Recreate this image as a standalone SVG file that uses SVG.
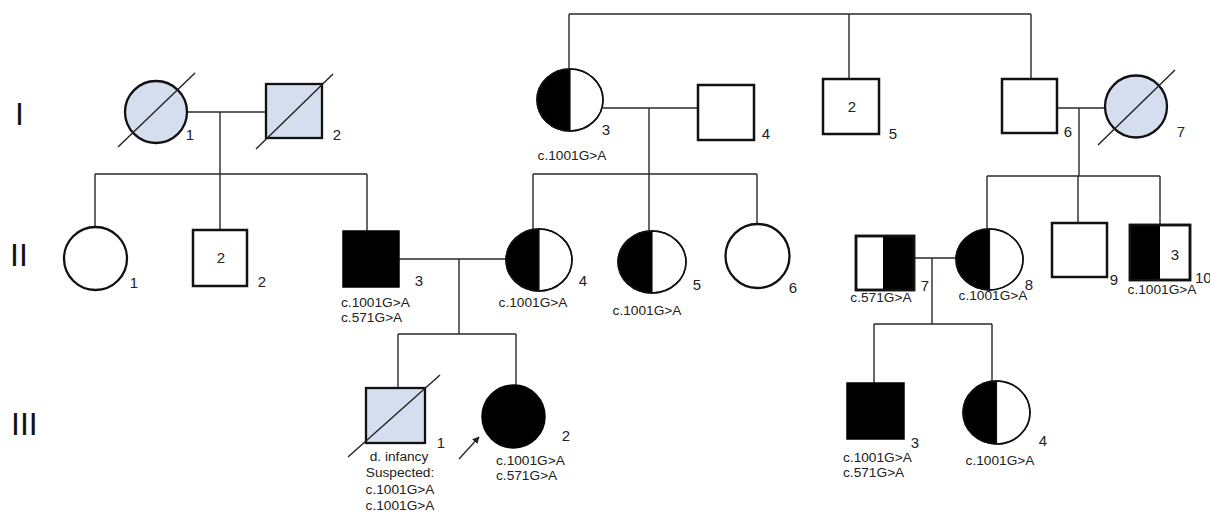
<svg xmlns="http://www.w3.org/2000/svg" width="1210" height="513" viewBox="0 0 1210 513">
  <style>
    .ln { stroke: #2a2a2a; stroke-width: 1.4; fill: none; }
    .sq { fill: #fff; stroke: #111; stroke-width: 2.5; }
    .ci { fill: #fff; stroke: #111; stroke-width: 2.3; }
    .hc { fill: #fff; stroke: #111; stroke-width: 1.5; }
    .dec { fill: #d5deef; stroke: #111; stroke-width: 2.3; }
    .aff { fill: #000; stroke: #000; stroke-width: 1.5; }
    .blk { fill: #000; stroke: none; }
    .sl { stroke: #222; stroke-width: 1.4; fill: none; }
    .mid { stroke: #111; stroke-width: 1.2; }
    text { font-family: "Liberation Sans", Arial, sans-serif; fill: #222; }
    .num { font-size: 15px; text-anchor: middle; }
    .gen { font-size: 13.7px; }
    .gc { text-anchor: middle; }
    .rom { font-size: 32px; fill: #111; }
  </style>
  <defs>
    <marker id="ah" viewBox="0 0 10 10" refX="9" refY="5" markerWidth="7" markerHeight="7" orient="auto" markerUnits="userSpaceOnUse">
      <path d="M0,0 L10,5 L0,10 Z" fill="#222"/>
    </marker>
  </defs>

  <!-- generation numerals -->
  <g id="generations">
    <text class="rom" x="15" y="125">I</text>
    <text class="rom" x="10" y="266">II</text>
    <text class="rom" x="11" y="435">III</text>
  </g>

  <!-- lines of descent and marriage -->
  <g id="connectors">
    <!-- I-1 x I-2 -->
    <path class="ln" d="M187,112 H266 M220,112 V174 M95,174 H367 M95,174 V227 M220,174 V230 M367,174 V231"/>
    <!-- top sibship of I-3, I-5, I-6 -->
    <path class="ln" d="M569,14 H1031 M569,14 V69 M849,14 V79 M1031,14 V79"/>
    <!-- I-3 x I-4 -->
    <path class="ln" d="M603,108 H698 M649,108 V174 M533,174 H757 M533,174 V229 M649,174 V231 M757,174 V224"/>
    <!-- I-6 x I-7 -->
    <path class="ln" d="M1057,108 H1105 M1079,108 V176 M987,176 H1160 M987,176 V229 M1078,176 V223 M1160,176 V225"/>
    <!-- II-3 x II-4 -->
    <path class="ln" d="M399,259 H506 M459,259 V334 M398,334 H516 M398,334 V388 M516,334 V385"/>
    <!-- II-7 x II-8 -->
    <path class="ln" d="M914,258 H956 M932,258 V324 M874,324 H992 M874,324 V383 M992,324 V381"/>
    <!-- proband arrow -->
    <line class="ln" x1="459" y1="459" x2="479" y2="437" marker-end="url(#ah)"/>
  </g>

  <!-- Generation I -->
  <g id="I-1">
    <circle class="dec" cx="156" cy="112" r="31"/>
    <line class="sl" x1="118" y1="147" x2="195" y2="73"/>
    <text class="num" x="190" y="140">1</text>
  </g>
  <g id="I-2">
    <rect class="dec" x="266" y="84" width="56" height="54"/>
    <line class="sl" x1="256" y1="149" x2="333" y2="74"/>
    <text class="num" x="337" y="140">2</text>
  </g>
  <g id="I-3">
    <ellipse class="hc" cx="570" cy="100" rx="33" ry="31"/>
    <path class="blk" d="M570,69 A33,31 0 0 0 570,131 Z"/>
    <ellipse cx="570" cy="100" rx="33" ry="31" fill="none" stroke="#111" stroke-width="1.5"/>
    <line class="mid" x1="570" y1="69" x2="570" y2="131"/>
    <text class="num" x="606" y="135">3</text>
    <text class="gen gc" x="572" y="160">c.1001G&gt;A</text>
  </g>
  <g id="I-4">
    <rect class="sq" x="698" y="85" width="56" height="55"/>
    <text class="num" x="766" y="139">4</text>
  </g>
  <g id="I-5">
    <rect class="sq" x="823" y="79" width="56" height="55"/>
    <text class="num" x="852" y="112">2</text>
    <text class="num" x="893" y="139">5</text>
  </g>
  <g id="I-6">
    <rect class="sq" x="1002" y="79" width="55" height="54"/>
    <text class="num" x="1068" y="137">6</text>
  </g>
  <g id="I-7">
    <circle class="dec" cx="1136" cy="106.5" r="31"/>
    <line class="sl" x1="1098" y1="145" x2="1175" y2="70"/>
    <text class="num" x="1181" y="137">7</text>
  </g>

  <!-- Generation II -->
  <g id="II-1">
    <circle class="ci" cx="95.5" cy="258.5" r="31.5"/>
    <text class="num" x="134" y="288">1</text>
  </g>
  <g id="II-2">
    <rect class="sq" x="193" y="230" width="54" height="56"/>
    <text class="num" x="221" y="263">2</text>
    <text class="num" x="262" y="287">2</text>
  </g>
  <g id="II-3">
    <rect class="aff" x="343" y="231" width="56" height="56"/>
    <text class="num" x="419" y="286">3</text>
    <text class="gen" x="341" y="307">c.1001G&gt;A</text>
    <text class="gen" x="341" y="322">c.571G&gt;A</text>
  </g>
  <g id="II-4">
    <ellipse class="hc" cx="539" cy="260" rx="33" ry="31"/>
    <path class="blk" d="M539,229 A33,31 0 0 0 539,291 Z"/>
    <ellipse cx="539" cy="260" rx="33" ry="31" fill="none" stroke="#111" stroke-width="1.5"/>
    <line class="mid" x1="539" y1="229" x2="539" y2="291"/>
    <text class="num" x="583" y="286">4</text>
    <text class="gen gc" x="533" y="307">c.1001G&gt;A</text>
  </g>
  <g id="II-5">
    <ellipse class="hc" cx="652" cy="262" rx="34" ry="31"/>
    <path class="blk" d="M652,231 A34,31 0 0 0 652,293 Z"/>
    <ellipse cx="652" cy="262" rx="34" ry="31" fill="none" stroke="#111" stroke-width="1.5"/>
    <line class="mid" x1="652" y1="231" x2="652" y2="293"/>
    <text class="num" x="697" y="290">5</text>
    <text class="gen gc" x="647" y="315">c.1001G&gt;A</text>
  </g>
  <g id="II-6">
    <circle class="ci" cx="757.5" cy="256" r="32"/>
    <text class="num" x="793" y="293">6</text>
  </g>
  <g id="II-7">
    <rect class="sq" x="856" y="236" width="58" height="54"/>
    <rect class="blk" x="883" y="236" width="31" height="54"/>
    <rect x="856" y="236" width="58" height="54" fill="none" stroke="#111" stroke-width="2.5"/>
    <text class="num" x="925" y="291">7</text>
    <text class="gen gc" x="881" y="302">c.571G&gt;A</text>
  </g>
  <g id="II-8">
    <ellipse class="hc" cx="989.5" cy="259.5" rx="33.5" ry="30.5"/>
    <path class="blk" d="M989.5,229 A33.5,30.5 0 0 0 989.5,290 Z"/>
    <ellipse cx="989.5" cy="259.5" rx="33.5" ry="30.5" fill="none" stroke="#111" stroke-width="1.5"/>
    <line class="mid" x1="989.5" y1="229" x2="989.5" y2="290"/>
    <text class="num" x="1029" y="290">8</text>
    <text class="gen gc" x="993" y="300">c.1001G&gt;A</text>
  </g>
  <g id="II-9">
    <rect class="sq" x="1052" y="223" width="55" height="54"/>
    <text class="num" x="1114" y="285">9</text>
  </g>
  <g id="II-10">
    <rect class="sq" x="1130" y="225" width="60" height="55"/>
    <rect class="blk" x="1130" y="225" width="30" height="55"/>
    <rect x="1130" y="225" width="60" height="55" fill="none" stroke="#111" stroke-width="2.5"/>
    <text class="num" x="1175" y="260">3</text>
    <text class="num" x="1195" y="283" text-anchor="start" style="text-anchor:start">10</text>
    <text class="gen gc" x="1162" y="294">c.1001G&gt;A</text>
  </g>

  <!-- Generation III -->
  <g id="III-1">
    <rect class="dec" x="366" y="388" width="59" height="55"/>
    <line class="sl" x1="348" y1="457" x2="440" y2="375"/>
    <text class="num" x="441" y="448">1</text>
    <text class="gen gc" x="399" y="461">d. infancy</text>
    <text class="gen gc" x="400" y="477">Suspected:</text>
    <text class="gen gc" x="400" y="494">c.1001G&gt;A</text>
    <text class="gen gc" x="400" y="510">c.1001G&gt;A</text>
  </g>
  <g id="III-2">
    <circle class="aff" cx="513.5" cy="416.5" r="31.5"/>
    <text class="num" x="566" y="441">2</text>
    <text class="gen" x="496" y="465">c.1001G&gt;A</text>
    <text class="gen" x="496" y="480">c.571G&gt;A</text>
  </g>
  <g id="III-3">
    <rect class="aff" x="847" y="383" width="57" height="56"/>
    <text class="num" x="915" y="448">3</text>
    <text class="gen" x="843" y="462">c.1001G&gt;A</text>
    <text class="gen" x="843" y="477">c.571G&gt;A</text>
  </g>
  <g id="III-4">
    <ellipse class="hc" cx="996.5" cy="412.5" rx="33.5" ry="31.5"/>
    <path class="blk" d="M996.5,381 A33.5,31.5 0 0 0 996.5,444 Z"/>
    <ellipse cx="996.5" cy="412.5" rx="33.5" ry="31.5" fill="none" stroke="#111" stroke-width="1.5"/>
    <line class="mid" x1="996.5" y1="381" x2="996.5" y2="444"/>
    <text class="num" x="1043" y="446">4</text>
    <text class="gen gc" x="1000" y="465">c.1001G&gt;A</text>
  </g>
</svg>
